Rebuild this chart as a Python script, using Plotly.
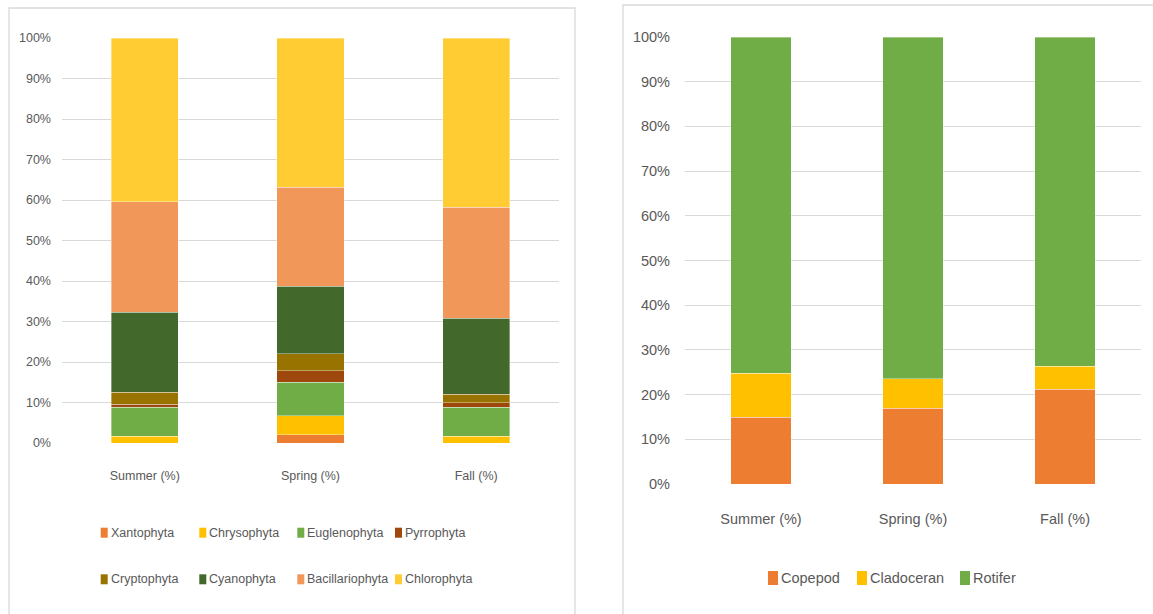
import plotly.graph_objects as go

# Seasons shown on both x axes
seasons = ["Summer (%)", "Spring (%)", "Fall (%)"]

# Phytoplankton composition (% of total) per season
xantophyta = [0.0, 2.1, 0.0]
chrysophyta = [1.7, 4.6, 1.7]
euglenophyta = [7.1, 8.3, 7.1]
pyrrophyta = [0.8, 2.9, 1.2]
cryptophyta = [2.9, 4.1, 2.1]
cyanophyta = [19.8, 16.7, 18.7]
bacillariophyta = [27.3, 24.5, 27.4]
chlorophyta = [40.4, 36.8, 41.8]

# Zooplankton composition (% of total) per season
copepod = [14.9, 16.9, 21.2]
cladoceran = [9.9, 6.7, 5.1]
rotifer = [75.2, 76.4, 73.7]

# Percentage axis ticks and their labels
pct_ticks = [0, 10, 20, 30, 40, 50, 60, 70, 80, 90, 100]
pct_labels = ["0%", "10%", "20%", "30%", "40%", "50%", "60%", "70%", "80%", "90%", "100%"]

W, H = 1153, 614
FONT = "Liberation Sans, Arial, sans-serif"
TXT = "#595959"
GRID = "#D9D9D9"
SEG_LINE = dict(color="rgba(255,255,255,0.45)", width=0.8)


def px_x(p):
    return p / W


def px_y(p):
    return 1 - p / H


fig = go.Figure()

phyto = [
    ("Xantophyta", xantophyta, "#ED7D31"),
    ("Chrysophyta", chrysophyta, "#FFC000"),
    ("Euglenophyta", euglenophyta, "#70AD47"),
    ("Pyrrophyta", pyrrophyta, "#9E480E"),
    ("Cryptophyta", cryptophyta, "#997300"),
    ("Cyanophyta", cyanophyta, "#43682B"),
    ("Bacillariophyta", bacillariophyta, "#F1975A"),
    ("Chlorophyta", chlorophyta, "#FFCD33"),
]
for name, vals, color in phyto:
    fig.add_trace(go.Bar(
        x=seasons, y=vals, name=name, xaxis="x", yaxis="y",
        marker=dict(color=color, line=SEG_LINE),
        width=0.405, showlegend=False, hoverinfo="name+y",
    ))

zoo = [
    ("Copepod", copepod, "#ED7D31"),
    ("Cladoceran", cladoceran, "#FFC000"),
    ("Rotifer", rotifer, "#70AD47"),
]
for name, vals, color in zoo:
    fig.add_trace(go.Bar(
        x=seasons, y=vals, name=name, xaxis="x2", yaxis="y2",
        marker=dict(color=color, line=SEG_LINE),
        width=0.395, showlegend=False, hoverinfo="name+y",
    ))


def y_axis(size, standoff, top, bottom, anchor):
    return dict(
        domain=[px_y(bottom), px_y(top)], anchor=anchor,
        range=[0, 100], tickmode="array", tickvals=pct_ticks, ticktext=pct_labels,
        showgrid=True, gridcolor=GRID, gridwidth=1.3,
        zeroline=False, showline=False, ticks="", ticklabelstandoff=standoff,
        tickfont=dict(family=FONT, size=size, color=TXT), fixedrange=True,
    )


def x_axis(size, standoff, left, right, anchor):
    return dict(
        domain=[px_x(left), px_x(right)], anchor=anchor,
        showgrid=False, zeroline=False, showline=False, ticks="",
        ticklabelstandoff=standoff,
        tickfont=dict(family=FONT, size=size, color=TXT), fixedrange=True,
    )


# Legend keys: coloured swatch followed by the series name
shapes = [
    dict(type="rect", xref="paper", yref="paper",
         x0=px_x(9), x1=px_x(575), y0=px_y(640), y1=px_y(8),
         line=dict(color=GRID, width=1.3), fillcolor="rgba(0,0,0,0)", layer="below"),
    dict(type="rect", xref="paper", yref="paper",
         x0=px_x(623), x1=px_x(1180), y0=px_y(640), y1=px_y(5),
         line=dict(color=GRID, width=1.3), fillcolor="rgba(0,0,0,0)", layer="below"),
]
annotations = []


def legend_entry(name, color, x, y, sw, sh, gap, size):
    shapes.append(dict(
        type="rect", xref="paper", yref="paper",
        x0=px_x(x), x1=px_x(x + sw), y0=px_y(y + sh / 2), y1=px_y(y - sh / 2),
        line=dict(width=0), fillcolor=color,
    ))
    annotations.append(dict(
        text=name, xref="paper", yref="paper", x=px_x(x + gap), y=px_y(y),
        xanchor="left", yanchor="middle", showarrow=False,
        font=dict(family=FONT, size=size, color=TXT),
    ))


left_cols = [100.7, 199.3, 297.3, 395.0]
left_rows = [532.7, 579.3]
for i, (name, _, color) in enumerate(phyto):
    legend_entry(name, color, left_cols[i % 4], left_rows[i // 4], 7, 10, 8, 12.5)

right_cols = [768.0, 857.0, 960.0]
for i, (name, _, color) in enumerate(zoo):
    legend_entry(name, color, right_cols[i], 578.0, 10, 14, 11, 14.5)

fig.update_layout(
    width=W, height=H, margin=dict(l=0, r=0, t=0, b=0, autoexpand=False),
    paper_bgcolor="white", plot_bgcolor="white",
    barmode="stack", showlegend=False,
    xaxis=x_axis(12.5, 23, 62, 559, "y"),
    yaxis=y_axis(12.5, 10, 38, 443, "x"),
    xaxis2=x_axis(14.5, 24, 685, 1141, "y2"),
    yaxis2=y_axis(14.5, 14, 37, 484, "x2"),
    shapes=shapes, annotations=annotations,
)

fig.write_html("out.html")
